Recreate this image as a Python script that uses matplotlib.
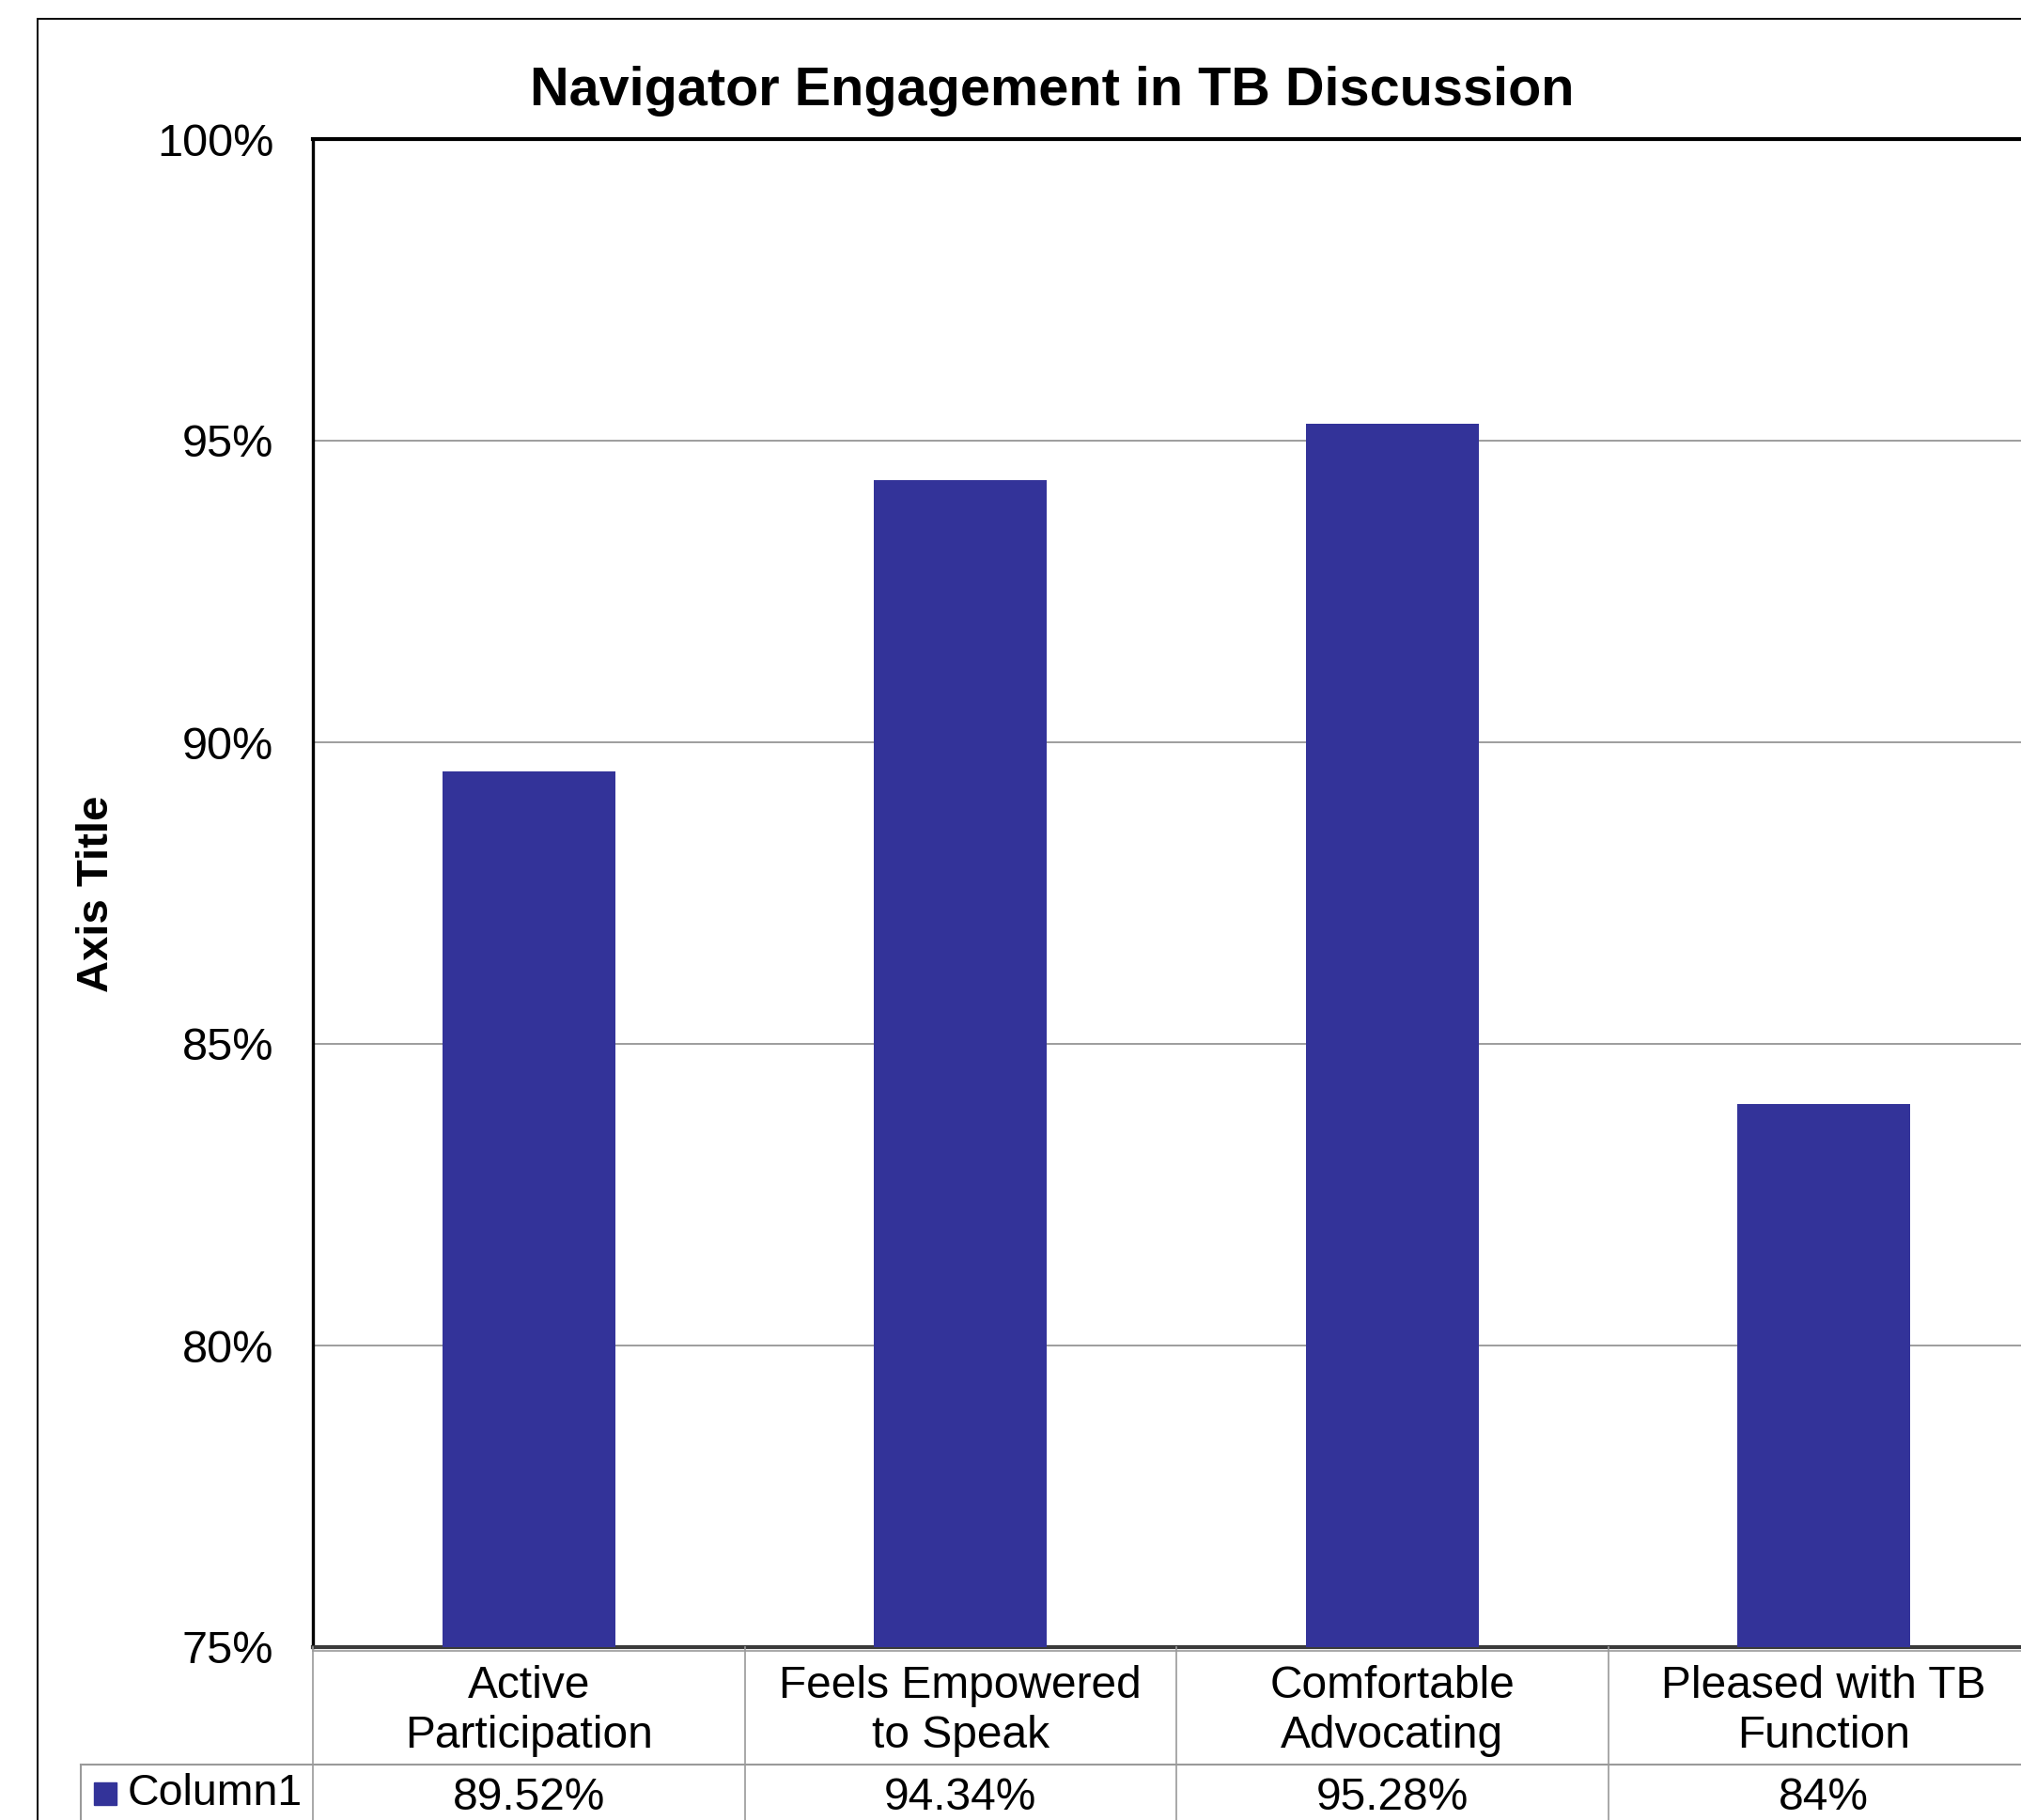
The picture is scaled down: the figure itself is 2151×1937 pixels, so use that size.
import matplotlib
matplotlib.use("Agg")
import matplotlib.pyplot as plt
import matplotlib.transforms as mtransforms
from matplotlib.lines import Line2D
from matplotlib.patches import Rectangle

plt.rcParams['font.family'] = ['Liberation Sans', 'DejaVu Sans']

# data
categories = ["Active\nParticipation", "Feels Empowered\nto Speak",
              "Comfortable\nAdvocating", "Pleased with TB\nFunction"]
values = [89.52, 94.34, 95.28, 84.0]
value_labels = ["89.52%", "94.34%", "95.28%", "84%"]
series_name = "Column1"
yticks = [75, 80, 85, 90, 95, 100]

W, H = 2151, 1937
bar_color = "#333399"

fig = plt.figure(figsize=(W / 100, H / 100), dpi=100)

def fx(px):
    return px / W

def fy(py):
    return 1 - py / H

# plot area (right edge runs past the image, as in the cropped original)
ax = fig.add_axes([fx(333), fy(1753), fx(2171) - fx(333), fy(148) - fy(1753)])
x = list(range(len(values)))
ax.bar(x, values, width=0.4, color=bar_color, zorder=3)
ax.set_xlim(-0.5, len(values) - 0.5)
ax.set_ylim(75, 100)
ax.set_yticks(yticks)
ax.set_yticklabels(["%d%%" % t for t in yticks], fontsize=35)
ax.tick_params(axis="y", length=0, pad=30)
ax.set_xticks([])
ax.yaxis.grid(True, color="#8c8c8c", linewidth=1.2, zorder=0)
ax.spines["top"].set_linewidth(3.0)
ax.spines["top"].set_color("black")
ax.spines["left"].set_linewidth(2.4)
ax.spines["left"].set_color("black")
ax.spines["bottom"].set_linewidth(3.0)
ax.spines["bottom"].set_color("#3a3a3a")
ax.spines["right"].set_visible(False)

# titles
fig.text(fx(1120), fy(97), "Navigator Engagement in TB Discussion",
         fontsize=41.5, fontweight="bold", ha="center", va="center")
fig.text(fx(103), fy(951), "Axis Title", fontsize=34, fontweight="bold",
         rotation=90, ha="center", va="center")

# outer chart border
fig.add_artist(Line2D([fx(40), 1.0], [fy(20), fy(20)], color="black", lw=1.4))
fig.add_artist(Line2D([fx(40), fx(40)], [fy(20), 0.0], color="black", lw=1.4))

# data table
blend = mtransforms.blended_transform_factory(ax.transData, fig.transFigure)
grid_gray = "#9a9a9a"
fig.add_artist(Line2D([fx(333), 1.0], [fy(1757), fy(1757)], color=grid_gray, lw=1.2))
fig.add_artist(Line2D([fx(86), 1.0], [fy(1878), fy(1878)], color=grid_gray, lw=1.5))
fig.add_artist(Line2D([fx(86), fx(86)], [fy(1878), 0.0], color=grid_gray, lw=1.5))
for b in [i - 0.5 for i in range(len(values) + 1)]:
    fig.add_artist(Line2D([b, b], [fy(1753), 0.0], color=grid_gray, lw=1.2,
                          transform=blend))

for i, (cat, lab) in enumerate(zip(categories, value_labels)):
    fig.text(i, fy(1821), cat, transform=blend, fontsize=34.5, ha="center",
             va="center", linespacing=1.22)
    fig.text(i, fy(1913), lab, transform=blend, fontsize=34.5, ha="center",
             va="center")

fig.add_artist(Rectangle((fx(100), fy(1921)), fx(124) - fx(100), fy(1897) - fy(1921),
                         color=bar_color, transform=fig.transFigure))
fig.text(fx(136), fy(1909), series_name, fontsize=33.5, ha="left", va="center")

fig.savefig("out.png", dpi=100)
